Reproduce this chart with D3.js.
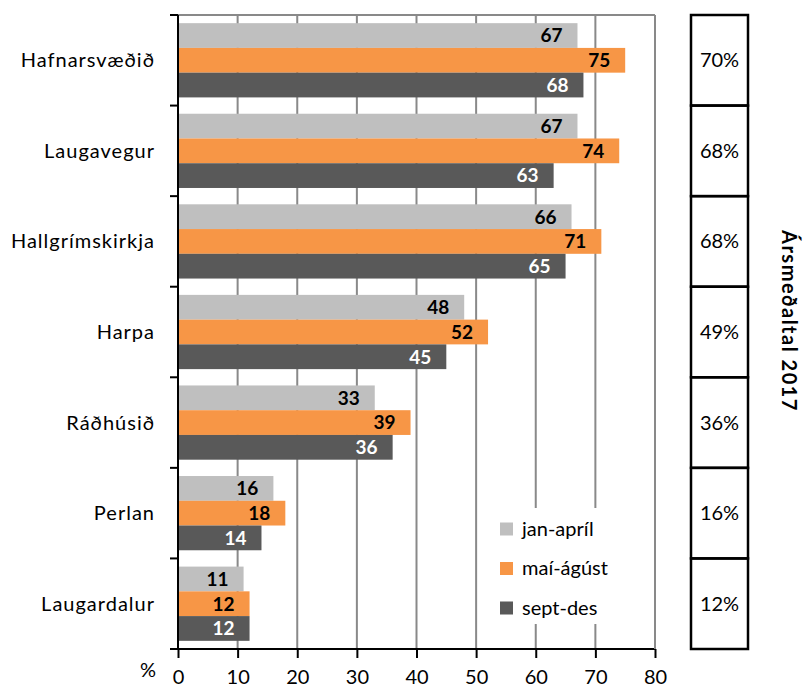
<!DOCTYPE html>
<html>
<head>
<meta charset="utf-8">
<script src="https://cdn.jsdelivr.net/npm/d3@7"></script>
<style>
  body { margin: 0; background: #fff; }
  svg { display: block; font-family: Lato, "Open Sans", sans-serif; }
</style>
</head>
<body>
<svg id="chart" width="804" height="690"></svg>
<script>
const categories = ["Hafnarsvæðið", "Laugavegur", "Hallgrímskirkja", "Harpa", "Ráðhúsið", "Perlan", "Laugardalur"];
const series = ["jan-apríl", "maí-ágúst", "sept-des"];
const janApril = [67, 67, 66, 48, 33, 16, 11];
const maiAgust = [75, 74, 71, 52, 39, 18, 12];
const septDes = [68, 63, 65, 45, 36, 14, 12];
const annualAvg = ["70%", "68%", "68%", "49%", "36%", "16%", "12%"];
const xTicks = [0, 10, 20, 30, 40, 50, 60, 70, 80];
const colors = ["#BFBFBF", "#F79646", "#595959"];
const labelColors = ["#000", "#000", "#fff"];
const title = "Ársmeðaltal 2017";
const unitLabel = "%";

const values = [janApril, maiAgust, septDes];
const svg = d3.select("#chart");

const x = d3.scaleLinear().domain([0, 80]).range([178, 655]);
const y0 = d3.scaleBand().domain(categories).range([15, 649]).padding(0);
const y1 = d3.scaleBand().domain(series).range([0, y0.bandwidth()]).paddingInner(0).paddingOuter(0.33);

// gridlines
svg.append("g").selectAll("line").data(xTicks.filter(t => t > 0)).join("line")
  .attr("x1", d => x(d)).attr("x2", d => x(d))
  .attr("y1", y0.range()[0]).attr("y2", y0.range()[1])
  .attr("stroke", "#898989").attr("stroke-width", 2);
// top border
svg.append("line").attr("x1", x(0)).attr("x2", x(80)).attr("y1", 15).attr("y2", 15)
  .attr("stroke", "#898989").attr("stroke-width", 2);

// bars
const groups = svg.append("g").selectAll("g").data(categories).join("g")
  .attr("transform", d => `translate(0,${y0(d)})`);
series.forEach((s, si) => {
  groups.append("rect")
    .attr("x", x(0))
    .attr("y", y1(s))
    .attr("width", (d, i) => x(values[si][i]) - x(0))
    .attr("height", y1.bandwidth())
    .attr("fill", colors[si]);
});
series.forEach((s, si) => {
  groups.append("text")
    .attr("x", (d, i) => x(values[si][i]) - 15)
    .attr("y", y1(s) + y1.bandwidth() / 2)
    .attr("dy", "0.36em")
    .attr("text-anchor", "end")
    .attr("font-weight", "bold")
    .attr("font-size", 19)
    .attr("fill", labelColors[si])
    .text((d, i) => values[si][i]);
});

// legend
const lg = svg.append("g");
lg.append("rect").attr("x", 488).attr("y", 508).attr("width", 160).attr("height", 116).attr("fill", "#fff");
const legendY = d3.scalePoint().domain(series).range([529, 608]);
series.forEach((s, si) => {
  lg.append("rect").attr("x", 500).attr("y", legendY(s) - 6.5).attr("width", 13).attr("height", 13).attr("fill", colors[si]);
  lg.append("text").attr("x", 522).attr("y", legendY(s)).attr("dy", "0.33em")
    .attr("font-size", 20).attr("fill", "#000").text(s);
});

// axes
const xAxis = d3.axisBottom(x).tickValues(xTicks).tickSize(9).tickPadding(12);
const gx = svg.append("g").attr("transform", "translate(0,649)").call(xAxis);
gx.select(".domain").attr("stroke", "#000").attr("stroke-width", 2).attr("d", `M170,0H${x(80)}`);
gx.selectAll(".tick line").attr("stroke", "#000").attr("stroke-width", 2);
gx.selectAll(".tick text").attr("font-size", 20).attr("font-family", "Lato, sans-serif").attr("fill", "#000");

// right border of plot
svg.append("line").attr("x1", x(80)).attr("x2", x(80)).attr("y1", 15).attr("y2", 649)
  .attr("stroke", "#898989").attr("stroke-width", 2);

// left axis with boundary ticks
const gy = svg.append("g");
gy.append("line").attr("x1", 178).attr("x2", 178).attr("y1", 15).attr("y2", 649)
  .attr("stroke", "#000").attr("stroke-width", 2);
const bounds = categories.map(c => y0(c)).concat([y0.range()[1]]);
gy.selectAll("line.tk").data(bounds).join("line").attr("class", "tk")
  .attr("x1", 170).attr("x2", 178).attr("y1", d => d).attr("y2", d => d)
  .attr("stroke", "#000").attr("stroke-width", 2);
gy.selectAll("text").data(categories).join("text")
  .attr("x", 155).attr("y", d => y0(d) + y0.bandwidth() / 2).attr("dy", "0.35em")
  .attr("text-anchor", "end").attr("font-size", 20).attr("letter-spacing", 1)
  .attr("fill", "#000").text(d => d);

svg.append("text").attr("x", 148).attr("y", 677).attr("text-anchor", "middle")
  .attr("font-size", 20).text(unitLabel);

// right table
const tbl = svg.append("g");
tbl.selectAll("rect").data(categories).join("rect")
  .attr("x", 691).attr("y", d => y0(d)).attr("width", 57).attr("height", y0.bandwidth())
  .attr("fill", "none").attr("stroke", "#000").attr("stroke-width", 2.5);
tbl.selectAll("text").data(categories).join("text")
  .attr("x", 719.5).attr("y", d => y0(d) + y0.bandwidth() / 2).attr("dy", "0.35em")
  .attr("text-anchor", "middle").attr("font-size", 20).attr("fill", "#000")
  .text((d, i) => annualAvg[i]);

svg.append("text").attr("transform", "translate(782,321) rotate(90)")
  .attr("text-anchor", "middle").attr("font-weight", "bold").attr("font-size", 20)
  .attr("letter-spacing", 1.5)
  .attr("fill", "#000").text(title);
</script>
</body>
</html>
